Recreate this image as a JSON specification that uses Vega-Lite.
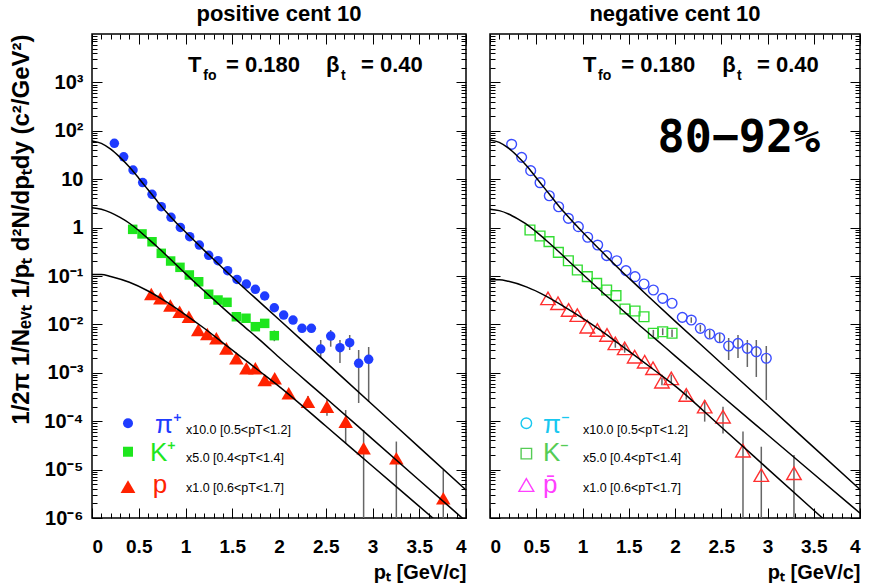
{
  "$schema": "https://vega.github.io/schema/vega-lite/v6.json",
  "background": "white",
  "padding": {"left": 9, "top": 1, "right": 5, "bottom": 5},
  "bounds": "flush",
  "spacing": 24,
  "config": {
    "font": "Liberation Sans",
    "view": {"stroke": "black", "strokeWidth": 1.5},
    "axis": {"domain": false, "grid": false, "tickColor": "black", "tickWidth": 1, "labelColor": "black", "titleColor": "black", "labelFont": "Liberation Sans", "labelFontWeight": "bold", "labelFontSize": 19, "titleFont": "Liberation Sans", "titleFontWeight": "bold"},
    "title": {"font": "Liberation Sans", "fontWeight": "bold", "fontSize": 22, "color": "black", "offset": 8}
  },
  "datasets": {
    "pts": [
      {"pn":"L","sp":"pi+","pT":0.239,"v":55},
      {"pn":"L","sp":"pi+","pT":0.339,"v":29},
      {"pn":"L","sp":"pi+","pT":0.439,"v":15.5},
      {"pn":"L","sp":"pi+","pT":0.542,"v":8.5},
      {"pn":"L","sp":"pi+","pT":0.642,"v":4.87},
      {"pn":"L","sp":"pi+","pT":0.741,"v":2.71},
      {"pn":"L","sp":"pi+","pT":0.845,"v":1.63},
      {"pn":"L","sp":"pi+","pT":0.945,"v":1.01},
      {"pn":"L","sp":"pi+","pT":1.045,"v":0.65},
      {"pn":"L","sp":"pi+","pT":1.148,"v":0.436},
      {"pn":"L","sp":"pi+","pT":1.248,"v":0.267},
      {"pn":"L","sp":"pi+","pT":1.348,"v":0.207},
      {"pn":"L","sp":"pi+","pT":1.451,"v":0.129},
      {"pn":"L","sp":"pi+","pT":1.551,"v":0.085},
      {"pn":"L","sp":"pi+","pT":1.651,"v":0.068},
      {"pn":"L","sp":"pi+","pT":1.747,"v":0.053},
      {"pn":"L","sp":"pi+","pT":1.847,"v":0.0386},
      {"pn":"L","sp":"pi+","pT":1.95,"v":0.0221},
      {"pn":"L","sp":"pi+","pT":2.05,"v":0.0156,"lo":0.0138,"hi":0.0175},
      {"pn":"L","sp":"pi+","pT":2.15,"v":0.0123,"lo":0.0108,"hi":0.0139},
      {"pn":"L","sp":"pi+","pT":2.246,"v":0.0083,"lo":0.0071,"hi":0.0096},
      {"pn":"L","sp":"pi+","pT":2.346,"v":0.0083,"lo":0.0069,"hi":0.0098},
      {"pn":"L","sp":"pi+","pT":2.446,"v":0.0031,"lo":0.0020,"hi":0.00476},
      {"pn":"L","sp":"pi+","pT":2.553,"v":0.00575,"lo":0.00346,"hi":0.00766},
      {"pn":"L","sp":"pi+","pT":2.652,"v":0.0033,"lo":0.00159,"hi":0.00476},
      {"pn":"L","sp":"pi+","pT":2.756,"v":0.0042,"lo":0.00296,"hi":0.00604},
      {"pn":"L","sp":"pi+","pT":2.852,"v":0.00157,"lo":0.000238,"hi":0.00296},
      {"pn":"L","sp":"pi+","pT":2.959,"v":0.0019,"lo":0.00025,"hi":0.00341},
      {"pn":"L","sp":"K+","pT":0.435,"v":0.92},
      {"pn":"L","sp":"K+","pT":0.535,"v":0.74},
      {"pn":"L","sp":"K+","pT":0.642,"v":0.51},
      {"pn":"L","sp":"K+","pT":0.741,"v":0.294},
      {"pn":"L","sp":"K+","pT":0.841,"v":0.204},
      {"pn":"L","sp":"K+","pT":0.941,"v":0.151},
      {"pn":"L","sp":"K+","pT":1.041,"v":0.105},
      {"pn":"L","sp":"K+","pT":1.141,"v":0.076},
      {"pn":"L","sp":"K+","pT":1.248,"v":0.042},
      {"pn":"L","sp":"K+","pT":1.348,"v":0.0319},
      {"pn":"L","sp":"K+","pT":1.444,"v":0.0286},
      {"pn":"L","sp":"K+","pT":1.544,"v":0.0144},
      {"pn":"L","sp":"K+","pT":1.647,"v":0.0134},
      {"pn":"L","sp":"K+","pT":1.747,"v":0.00897},
      {"pn":"L","sp":"K+","pT":1.847,"v":0.0105,"lo":0.0092,"hi":0.012},
      {"pn":"L","sp":"K+","pT":1.95,"v":0.00585,"lo":0.0045,"hi":0.0075},
      {"pn":"L","sp":"p","pT":0.634,"v":0.0425},
      {"pn":"L","sp":"p","pT":0.731,"v":0.0346},
      {"pn":"L","sp":"p","pT":0.838,"v":0.0245},
      {"pn":"L","sp":"p","pT":0.937,"v":0.0183},
      {"pn":"L","sp":"p","pT":1.036,"v":0.0144},
      {"pn":"L","sp":"p","pT":1.136,"v":0.00766},
      {"pn":"L","sp":"p","pT":1.233,"v":0.00634},
      {"pn":"L","sp":"p","pT":1.33,"v":0.00516},
      {"pn":"L","sp":"p","pT":1.437,"v":0.0032},
      {"pn":"L","sp":"p","pT":1.544,"v":0.0020},
      {"pn":"L","sp":"p","pT":1.651,"v":0.00124},
      {"pn":"L","sp":"p","pT":1.747,"v":0.00124},
      {"pn":"L","sp":"p","pT":1.847,"v":0.00071},
      {"pn":"L","sp":"p","pT":1.954,"v":0.00077,"lo":0.00066,"hi":0.0009},
      {"pn":"L","sp":"p","pT":2.104,"v":0.000377,"lo":0.00031,"hi":0.00045},
      {"pn":"L","sp":"p","pT":2.31,"v":0.000253,"lo":0.00019,"hi":0.00033},
      {"pn":"L","sp":"p","pT":2.513,"v":0.0002,"lo":0.00013,"hi":0.00028},
      {"pn":"L","sp":"p","pT":2.713,"v":0.0000977,"lo":0.000035,"hi":0.00017},
      {"pn":"L","sp":"p","pT":2.905,"v":0.0000275,"lo":0.0000001,"hi":0.000066},
      {"pn":"L","sp":"p","pT":3.255,"v":0.0000171,"lo":0.0000001,"hi":0.000038},
      {"pn":"L","sp":"p","pT":3.757,"v":0.00000255,"lo":0.0000001,"hi":0.0000098},
      {"pn":"R","sp":"pi-","pT":0.234,"v":52.6},
      {"pn":"R","sp":"pi-","pT":0.342,"v":28.3},
      {"pn":"R","sp":"pi-","pT":0.44,"v":15.0},
      {"pn":"R","sp":"pi-","pT":0.541,"v":8.47},
      {"pn":"R","sp":"pi-","pT":0.641,"v":4.56},
      {"pn":"R","sp":"pi-","pT":0.742,"v":2.70},
      {"pn":"R","sp":"pi-","pT":0.847,"v":1.556},
      {"pn":"R","sp":"pi-","pT":0.955,"v":1.045},
      {"pn":"R","sp":"pi-","pT":1.056,"v":0.631},
      {"pn":"R","sp":"pi-","pT":1.164,"v":0.436},
      {"pn":"R","sp":"pi-","pT":1.261,"v":0.263},
      {"pn":"R","sp":"pi-","pT":1.37,"v":0.207},
      {"pn":"R","sp":"pi-","pT":1.47,"v":0.129},
      {"pn":"R","sp":"pi-","pT":1.568,"v":0.0968},
      {"pn":"R","sp":"pi-","pT":1.665,"v":0.0684},
      {"pn":"R","sp":"pi-","pT":1.766,"v":0.0514},
      {"pn":"R","sp":"pi-","pT":1.867,"v":0.0346},
      {"pn":"R","sp":"pi-","pT":1.968,"v":0.0273},
      {"pn":"R","sp":"pi-","pT":2.079,"v":0.0140},
      {"pn":"R","sp":"pi-","pT":2.176,"v":0.0123,"lo":0.0108,"hi":0.014},
      {"pn":"R","sp":"pi-","pT":2.274,"v":0.0083,"lo":0.0071,"hi":0.0097},
      {"pn":"R","sp":"pi-","pT":2.375,"v":0.00634,"lo":0.0052,"hi":0.0077},
      {"pn":"R","sp":"pi-","pT":2.483,"v":0.0053,"lo":0.0042,"hi":0.0066},
      {"pn":"R","sp":"pi-","pT":2.58,"v":0.00358,"lo":0.00184,"hi":0.00524},
      {"pn":"R","sp":"pi-","pT":2.681,"v":0.00406,"lo":0.00202,"hi":0.00604},
      {"pn":"R","sp":"pi-","pT":2.782,"v":0.0032,"lo":0.00132,"hi":0.00476},
      {"pn":"R","sp":"pi-","pT":2.879,"v":0.00273,"lo":0.00082,"hi":0.00476},
      {"pn":"R","sp":"pi-","pT":2.987,"v":0.0020,"lo":0.000274,"hi":0.00358},
      {"pn":"R","sp":"K-","pT":0.432,"v":0.891},
      {"pn":"R","sp":"K-","pT":0.541,"v":0.67},
      {"pn":"R","sp":"K-","pT":0.638,"v":0.512},
      {"pn":"R","sp":"K-","pT":0.739,"v":0.308},
      {"pn":"R","sp":"K-","pT":0.847,"v":0.207},
      {"pn":"R","sp":"K-","pT":0.944,"v":0.133},
      {"pn":"R","sp":"K-","pT":1.052,"v":0.0968},
      {"pn":"R","sp":"K-","pT":1.153,"v":0.0706},
      {"pn":"R","sp":"K-","pT":1.261,"v":0.0514},
      {"pn":"R","sp":"K-","pT":1.362,"v":0.0392},
      {"pn":"R","sp":"K-","pT":1.459,"v":0.0208},
      {"pn":"R","sp":"K-","pT":1.568,"v":0.0189},
      {"pn":"R","sp":"K-","pT":1.665,"v":0.0144},
      {"pn":"R","sp":"K-","pT":1.766,"v":0.00655,"lo":0.0056,"hi":0.0077},
      {"pn":"R","sp":"K-","pT":1.867,"v":0.00706,"lo":0.006,"hi":0.0083},
      {"pn":"R","sp":"K-","pT":1.968,"v":0.00655,"lo":0.0055,"hi":0.0078},
      {"pn":"R","sp":"pbar","pT":0.627,"v":0.0346},
      {"pn":"R","sp":"pbar","pT":0.735,"v":0.0273},
      {"pn":"R","sp":"pbar","pT":0.85,"v":0.0199},
      {"pn":"R","sp":"pbar","pT":0.944,"v":0.0156},
      {"pn":"R","sp":"pbar","pT":1.052,"v":0.00897},
      {"pn":"R","sp":"pbar","pT":1.16,"v":0.00766},
      {"pn":"R","sp":"pbar","pT":1.265,"v":0.00604},
      {"pn":"R","sp":"pbar","pT":1.355,"v":0.00406,"lo":0.0033,"hi":0.0049},
      {"pn":"R","sp":"pbar","pT":1.456,"v":0.0032,"lo":0.0026,"hi":0.0039},
      {"pn":"R","sp":"pbar","pT":1.564,"v":0.00215},
      {"pn":"R","sp":"pbar","pT":1.672,"v":0.00169},
      {"pn":"R","sp":"pbar","pT":1.762,"v":0.00124},
      {"pn":"R","sp":"pbar","pT":1.859,"v":0.000655,"lo":0.00055,"hi":0.00078},
      {"pn":"R","sp":"pbar","pT":1.96,"v":0.000769,"lo":0.00064,"hi":0.00092},
      {"pn":"R","sp":"pbar","pT":2.122,"v":0.000348,"lo":0.00028,"hi":0.00043},
      {"pn":"R","sp":"pbar","pT":2.321,"v":0.0002,"lo":0.000098,"hi":0.000274},
      {"pn":"R","sp":"pbar","pT":2.519,"v":0.000124,"lo":0.000056,"hi":0.0002},
      {"pn":"R","sp":"pbar","pT":2.735,"v":0.0000246,"lo":0.0000001,"hi":0.000061},
      {"pn":"R","sp":"pbar","pT":2.933,"v":0.0000077,"lo":0.0000001,"hi":0.0000297},
      {"pn":"R","sp":"pbar","pT":3.286,"v":0.0000084,"lo":0.0000001,"hi":0.00002}
    ],
    "curves": [
      {"pn":"L","c":"pi","pT":0,"v":61.7},{"pn":"L","c":"pi","pT":0.1,"v":55.0},{"pn":"L","c":"pi","pT":0.2,"v":41.7},{"pn":"L","c":"pi","pT":0.3,"v":28.2},{"pn":"L","c":"pi","pT":0.4,"v":17.8},{"pn":"L","c":"pi","pT":0.5,"v":10.5},{"pn":"L","c":"pi","pT":0.6,"v":6.03},{"pn":"L","c":"pi","pT":0.7,"v":3.47},{"pn":"L","c":"pi","pT":0.8,"v":2.04},{"pn":"L","c":"pi","pT":0.9,"v":1.26},{"pn":"L","c":"pi","pT":1.0,"v":0.813},{"pn":"L","c":"pi","pT":1.2,"v":0.339},{"pn":"L","c":"pi","pT":1.4,"v":0.145},{"pn":"L","c":"pi","pT":1.6,"v":0.0631},{"pn":"L","c":"pi","pT":1.8,"v":0.0282},{"pn":"L","c":"pi","pT":2.0,"v":0.0126},{"pn":"L","c":"pi","pT":2.5,"v":0.00166},{"pn":"L","c":"pi","pT":3.0,"v":0.000219},{"pn":"L","c":"pi","pT":3.5,"v":0.0000288},{"pn":"L","c":"pi","pT":4.0,"v":0.0000038},
      {"pn":"L","c":"K","pT":0,"v":2.57},{"pn":"L","c":"K","pT":0.1,"v":2.40},{"pn":"L","c":"K","pT":0.2,"v":2.04},{"pn":"L","c":"K","pT":0.3,"v":1.62},{"pn":"L","c":"K","pT":0.4,"v":1.23},{"pn":"L","c":"K","pT":0.5,"v":0.871},{"pn":"L","c":"K","pT":0.6,"v":0.589},{"pn":"L","c":"K","pT":0.7,"v":0.398},{"pn":"L","c":"K","pT":0.8,"v":0.263},{"pn":"L","c":"K","pT":1.0,"v":0.112},{"pn":"L","c":"K","pT":1.2,"v":0.049},{"pn":"L","c":"K","pT":1.4,"v":0.0219},{"pn":"L","c":"K","pT":1.6,"v":0.01},{"pn":"L","c":"K","pT":1.8,"v":0.00468},{"pn":"L","c":"K","pT":2.0,"v":0.00209},{"pn":"L","c":"K","pT":2.5,"v":0.000302},{"pn":"L","c":"K","pT":3.0,"v":0.0000427},{"pn":"L","c":"K","pT":3.5,"v":0.00000603},{"pn":"L","c":"K","pT":4.0,"v":0.000000851},
      {"pn":"L","c":"p","pT":0,"v":0.107},{"pn":"L","c":"p","pT":0.1,"v":0.108},{"pn":"L","c":"p","pT":0.2,"v":0.0977},{"pn":"L","c":"p","pT":0.4,"v":0.0741},{"pn":"L","c":"p","pT":0.6,"v":0.049},{"pn":"L","c":"p","pT":0.8,"v":0.0288},{"pn":"L","c":"p","pT":1.0,"v":0.0158},{"pn":"L","c":"p","pT":1.2,"v":0.00832},{"pn":"L","c":"p","pT":1.4,"v":0.00417},{"pn":"L","c":"p","pT":1.6,"v":0.00209},{"pn":"L","c":"p","pT":1.8,"v":0.00105},{"pn":"L","c":"p","pT":2.0,"v":0.000525},{"pn":"L","c":"p","pT":2.5,"v":0.0000794},{"pn":"L","c":"p","pT":3.0,"v":0.0000117},{"pn":"L","c":"p","pT":3.5,"v":0.00000174},{"pn":"L","c":"p","pT":4.0,"v":0.000000257},
      {"pn":"R","c":"pi","pT":0,"v":64.6},{"pn":"R","c":"pi","pT":0.1,"v":57.5},{"pn":"R","c":"pi","pT":0.2,"v":43.7},{"pn":"R","c":"pi","pT":0.3,"v":29.5},{"pn":"R","c":"pi","pT":0.4,"v":18.6},{"pn":"R","c":"pi","pT":0.5,"v":10.7},{"pn":"R","c":"pi","pT":0.6,"v":6.17},{"pn":"R","c":"pi","pT":0.7,"v":3.55},{"pn":"R","c":"pi","pT":0.8,"v":2.09},{"pn":"R","c":"pi","pT":0.9,"v":1.29},{"pn":"R","c":"pi","pT":1.0,"v":0.813},{"pn":"R","c":"pi","pT":1.2,"v":0.331},{"pn":"R","c":"pi","pT":1.4,"v":0.138},{"pn":"R","c":"pi","pT":1.6,"v":0.0603},{"pn":"R","c":"pi","pT":1.8,"v":0.0263},{"pn":"R","c":"pi","pT":2.0,"v":0.0117},{"pn":"R","c":"pi","pT":2.5,"v":0.00158},{"pn":"R","c":"pi","pT":3.0,"v":0.000214},{"pn":"R","c":"pi","pT":3.5,"v":0.0000288},{"pn":"R","c":"pi","pT":4.0,"v":0.00000389},
      {"pn":"R","c":"K","pT":0,"v":2.40},{"pn":"R","c":"K","pT":0.1,"v":2.24},{"pn":"R","c":"K","pT":0.2,"v":1.91},{"pn":"R","c":"K","pT":0.3,"v":1.51},{"pn":"R","c":"K","pT":0.4,"v":1.15},{"pn":"R","c":"K","pT":0.5,"v":0.813},{"pn":"R","c":"K","pT":0.6,"v":0.562},{"pn":"R","c":"K","pT":0.7,"v":0.380},{"pn":"R","c":"K","pT":0.8,"v":0.251},{"pn":"R","c":"K","pT":1.0,"v":0.110},{"pn":"R","c":"K","pT":1.2,"v":0.049},{"pn":"R","c":"K","pT":1.4,"v":0.0224},{"pn":"R","c":"K","pT":1.6,"v":0.0102},{"pn":"R","c":"K","pT":1.8,"v":0.00479},{"pn":"R","c":"K","pT":2.0,"v":0.00224},{"pn":"R","c":"K","pT":2.5,"v":0.000339},{"pn":"R","c":"K","pT":3.0,"v":0.0000525},{"pn":"R","c":"K","pT":3.5,"v":0.00000813},{"pn":"R","c":"K","pT":4.0,"v":0.00000126},
      {"pn":"R","c":"p","pT":0,"v":0.0832},{"pn":"R","c":"p","pT":0.1,"v":0.0832},{"pn":"R","c":"p","pT":0.2,"v":0.0776},{"pn":"R","c":"p","pT":0.4,"v":0.0589},{"pn":"R","c":"p","pT":0.6,"v":0.0389},{"pn":"R","c":"p","pT":0.8,"v":0.0234},{"pn":"R","c":"p","pT":1.0,"v":0.0135},{"pn":"R","c":"p","pT":1.2,"v":0.00741},{"pn":"R","c":"p","pT":1.4,"v":0.00389},{"pn":"R","c":"p","pT":1.6,"v":0.00204},{"pn":"R","c":"p","pT":1.8,"v":0.00105},{"pn":"R","c":"p","pT":2.0,"v":0.000537},{"pn":"R","c":"p","pT":2.5,"v":0.0000759},{"pn":"R","c":"p","pT":3.0,"v":0.0000105},{"pn":"R","c":"p","pT":3.5,"v":0.00000145},{"pn":"R","c":"p","pT":4.0,"v":0.0000002}
    ],
    "ann": [
      {"pn":"L","k":"main","pT":1.027,"v":1663,"txt":"T"},
      {"pn":"L","k":"sub","pT":1.19,"v":1122,"txt":"fo"},
      {"pn":"L","k":"main","pT":1.433,"v":1663,"txt":"= 0.180"},
      {"pn":"L","k":"main","pT":2.503,"v":1663,"txt":"β"},
      {"pn":"L","k":"sub","pT":2.663,"v":1122,"txt":"t"},
      {"pn":"L","k":"main","pT":2.877,"v":1663,"txt":"= 0.40"},
      {"pn":"R","k":"main","pT":1.005,"v":1663,"txt":"T"},
      {"pn":"R","k":"sub","pT":1.168,"v":1122,"txt":"fo"},
      {"pn":"R","k":"main","pT":1.419,"v":1663,"txt":"= 0.180"},
      {"pn":"R","k":"main","pT":2.51,"v":1663,"txt":"β"},
      {"pn":"R","k":"sub","pT":2.67,"v":1122,"txt":"t"},
      {"pn":"R","k":"main","pT":2.886,"v":1663,"txt":"= 0.40"},
      {"pn":"R","k":"big","pT":2.69,"v":71,"txt":"80−92%"},
      {"pn":"L","k":"sym","sp":"pi+","pT":0.385,"v":0.0000906},
      {"pn":"L","k":"sym","sp":"K+","pT":0.385,"v":0.0000234},
      {"pn":"L","k":"sym","sp":"p","pT":0.385,"v":0.00000444},
      {"pn":"L","k":"lab","sp":"pi+","pT":0.674,"v":0.0000832,"txt":"π⁺"},
      {"pn":"L","k":"lab","sp":"K+","pT":0.62,"v":0.0000220,"txt":"K⁺"},
      {"pn":"L","k":"lab","sp":"p","pT":0.65,"v":0.0000048,"txt":"p"},
      {"pn":"L","k":"desc","pT":1.005,"v":0.0000658,"txt":"x10.0 [0.5<pT<1.2]"},
      {"pn":"L","k":"desc","pT":1.005,"v":0.0000174,"txt":"x5.0 [0.4<pT<1.4]"},
      {"pn":"L","k":"desc","pT":1.005,"v":0.00000417,"txt":"x1.0 [0.6<pT<1.7]"},
      {"pn":"R","k":"sym","sp":"pi-L","pT":0.393,"v":0.0000906},
      {"pn":"R","k":"sym","sp":"K-L","pT":0.393,"v":0.0000214},
      {"pn":"R","k":"sym","sp":"pbar-L","pT":0.393,"v":0.00000481},
      {"pn":"R","k":"lab","sp":"pi-L","pT":0.573,"v":0.0000832,"txt":"π⁻"},
      {"pn":"R","k":"lab","sp":"K-L","pT":0.573,"v":0.0000220,"txt":"K⁻"},
      {"pn":"R","k":"lab","sp":"pbar-L","pT":0.573,"v":0.0000048,"txt":"p̄"},
      {"pn":"R","k":"desc","pT":1.005,"v":0.0000658,"txt":"x10.0 [0.5<pT<1.2]"},
      {"pn":"R","k":"desc","pT":1.005,"v":0.0000174,"txt":"x5.0 [0.4<pT<1.4]"},
      {"pn":"R","k":"desc","pT":1.005,"v":0.00000417,"txt":"x1.0 [0.6<pT<1.7]"}
    ]
  },
  "hconcat": [
    {
      "width": 374,
      "height": 484,
      "title": {"text": "positive cent 10"},
      "resolve": {"axis": {"x": "independent", "y": "independent"}},
      "layer": [
        {
          "data": {"name": "pts"},
          "transform": [{"filter": "datum.pn == 'L' && isValid(datum.lo)"}],
          "mark": {"type": "rule", "color": "#666666", "strokeWidth": 1.5, "clip": true},
          "encoding": {
            "x": {"field": "pT", "type": "quantitative", "scale": {"domain": [0, 4], "nice": false, "zero": false},
                  "axis": {"orient": "bottom", "values": [0,0.5,1,1.5,2,2.5,3,3.5,4], "format": "~g", "tickSize": -10, "labelPadding": 29, "title": "pₜ [GeV/c]", "titleAnchor": "end", "titleFontSize": 20, "titlePadding": 6}},
            "y": {"field": "lo", "type": "quantitative", "scale": {"type": "log", "domain": [0.000001, 10000], "nice": false},
                  "axis": {"orient": "left", "values": [0.000001,0.00001,0.0001,0.001,0.01,0.1,1,10,100,1000], "tickSize": -10, "labelPadding": 19, "labelFontSize": 20, "labelExpr": "datum.value >= 999 ? '10³' : datum.value >= 99 ? '10²' : datum.value >= 9 ? '10' : datum.value >= 0.9 ? '1' : datum.value >= 0.09 ? '10⁻¹' : datum.value >= 0.009 ? '10⁻²' : datum.value >= 0.0009 ? '10⁻³' : datum.value >= 0.00009 ? '10⁻⁴' : datum.value >= 0.000009 ? '10⁻⁵' : '10⁻⁶'", "title": "1/2π 1/Nₑᵥₜ 1/pₜ d²N/dpₜdy (c²/GeV²)", "titleAnchor": "end", "titleFontSize": 24, "titlePadding": 10}},
            "y2": {"field": "hi"}
          }
        },
        {
          "data": {"name": "pts"},
          "transform": [{"filter": "datum.pn == 'L' && datum.sp != 'p'"}],
          "mark": {"type": "point", "filled": true, "opacity": 1, "size": 90},
          "encoding": {
            "x": {"field": "pT", "type": "quantitative", "scale": {"domain": [0, 4], "nice": false, "zero": false},
                  "axis": {"orient": "top", "values": [0,0.5,1,1.5,2,2.5,3,3.5,4], "tickSize": -10, "labels": false, "title": null}},
            "y": {"field": "v", "type": "quantitative", "scale": {"type": "log", "domain": [0.000001, 10000], "nice": false},
                  "axis": {"orient": "right", "values": [0.000001,0.00001,0.0001,0.001,0.01,0.1,1,10,100,1000], "tickSize": -10, "labels": false, "title": null}},
            "color": {"field": "sp", "type": "nominal", "legend": null, "scale": {"domain": ["pi+","K+","p","pi-","K-","pbar","pi-L","K-L","pbar-L"], "range": ["#1f3cff","#1ee61e","#ff2200","#3a4cff","#33dd33","#ff3030","#18c8f0","#55cc55","#ff40ff"]}},
            "shape": {"field": "sp", "type": "nominal", "legend": null, "scale": {"domain": ["pi+","K+","p","pi-","K-","pbar","pi-L","K-L","pbar-L"], "range": ["circle","square","triangle-up","circle","square","triangle-up","circle","square","triangle-up"]}}
          }
        },
        {
          "data": {"name": "pts"},
          "transform": [{"filter": "datum.pn == 'L' && datum.sp == 'p'"}],
          "mark": {"type": "point", "filled": true, "opacity": 1, "size": 210},
          "encoding": {
            "x": {"field": "pT", "type": "quantitative", "axis": null},
            "y": {"field": "v", "type": "quantitative", "axis": null},
            "color": {"field": "sp", "type": "nominal", "legend": null},
            "shape": {"field": "sp", "type": "nominal", "legend": null}
          }
        },
        {
          "data": {"name": "curves"},
          "transform": [{"filter": "datum.pn == 'L'"}],
          "mark": {"type": "line", "color": "black", "strokeWidth": 1.5, "clip": true, "interpolate": "monotone"},
          "encoding": {
            "x": {"field": "pT", "type": "quantitative", "scale": {"domain": [0, 4], "nice": false, "zero": false},
                  "axis": {"orient": "bottom", "values": [0.1,0.2,0.3,0.4,0.6,0.7,0.8,0.9,1.1,1.2,1.3,1.4,1.6,1.7,1.8,1.9,2.1,2.2,2.3,2.4,2.6,2.7,2.8,2.9,3.1,3.2,3.3,3.4,3.6,3.7,3.8,3.9], "tickSize": -5, "labels": false, "title": null}},
            "y": {"field": "v", "type": "quantitative", "scale": {"type": "log", "domain": [0.000001, 10000], "nice": false},
                  "axis": {"orient": "left", "values": [0.000002,0.000003,0.000004,0.000005,0.000006,0.000007,0.000008,0.000009,0.00002,0.00003,0.00004,0.00005,0.00006,0.00007,0.00008,0.00009,0.0002,0.0003,0.0004,0.0005,0.0006,0.0007,0.0008,0.0009,0.002,0.003,0.004,0.005,0.006,0.007,0.008,0.009,0.02,0.03,0.04,0.05,0.06,0.07,0.08,0.09,0.2,0.3,0.4,0.5,0.6,0.7,0.8,0.9,2,3,4,5,6,7,8,9,20,30,40,50,60,70,80,90,200,300,400,500,600,700,800,900,2000,3000,4000,5000,6000,7000,8000,9000], "tickSize": -5, "labels": false, "title": null}},
            "detail": {"field": "c"}
          }
        },
        {
          "data": {"name": "ann"},
          "transform": [{"filter": "datum.pn == 'L' && datum.k == 'main'"}],
          "mark": {"type": "text", "align": "left", "baseline": "alphabetic", "fontSize": 22, "fontWeight": "bold", "font": "Liberation Sans", "color": "black"},
          "encoding": {
            "x": {"field": "pT", "type": "quantitative", "scale": {"domain": [0, 4], "nice": false, "zero": false},
                  "axis": {"orient": "top", "values": [0.1,0.2,0.3,0.4,0.6,0.7,0.8,0.9,1.1,1.2,1.3,1.4,1.6,1.7,1.8,1.9,2.1,2.2,2.3,2.4,2.6,2.7,2.8,2.9,3.1,3.2,3.3,3.4,3.6,3.7,3.8,3.9], "tickSize": -5, "labels": false, "title": null}},
            "y": {"field": "v", "type": "quantitative", "scale": {"type": "log", "domain": [0.000001, 10000], "nice": false},
                  "axis": {"orient": "right", "values": [0.000002,0.000003,0.000004,0.000005,0.000006,0.000007,0.000008,0.000009,0.00002,0.00003,0.00004,0.00005,0.00006,0.00007,0.00008,0.00009,0.0002,0.0003,0.0004,0.0005,0.0006,0.0007,0.0008,0.0009,0.002,0.003,0.004,0.005,0.006,0.007,0.008,0.009,0.02,0.03,0.04,0.05,0.06,0.07,0.08,0.09,0.2,0.3,0.4,0.5,0.6,0.7,0.8,0.9,2,3,4,5,6,7,8,9,20,30,40,50,60,70,80,90,200,300,400,500,600,700,800,900,2000,3000,4000,5000,6000,7000,8000,9000], "tickSize": -5, "labels": false, "title": null}},
            "text": {"field": "txt"}
          }
        },
        {
          "data": {"name": "ann"},
          "transform": [{"filter": "datum.pn == 'L' && datum.k == 'sub'"}],
          "mark": {"type": "text", "align": "left", "baseline": "alphabetic", "fontSize": 14, "fontWeight": "bold", "font": "Liberation Sans", "color": "black"},
          "encoding": {
            "x": {"field": "pT", "type": "quantitative", "axis": null},
            "y": {"field": "v", "type": "quantitative", "axis": null},
            "text": {"field": "txt"}
          }
        },
        {
          "data": {"name": "ann"},
          "transform": [{"filter": "datum.pn == 'L' && datum.k == 'sym' && datum.sp != 'p'"}],
          "mark": {"type": "point", "filled": true, "opacity": 1, "size": 100},
          "encoding": {
            "x": {"field": "pT", "type": "quantitative", "axis": null},
            "y": {"field": "v", "type": "quantitative", "axis": null},
            "color": {"field": "sp", "type": "nominal", "legend": null},
            "shape": {"field": "sp", "type": "nominal", "legend": null}
          }
        },
        {
          "data": {"name": "ann"},
          "transform": [{"filter": "datum.pn == 'L' && datum.k == 'sym' && datum.sp == 'p'"}],
          "mark": {"type": "point", "filled": true, "opacity": 1, "size": 220},
          "encoding": {
            "x": {"field": "pT", "type": "quantitative", "axis": null},
            "y": {"field": "v", "type": "quantitative", "axis": null},
            "color": {"field": "sp", "type": "nominal", "legend": null},
            "shape": {"field": "sp", "type": "nominal", "legend": null}
          }
        },
        {
          "data": {"name": "ann"},
          "transform": [{"filter": "datum.pn == 'L' && datum.k == 'lab'"}],
          "mark": {"type": "text", "align": "left", "baseline": "middle", "fontSize": 26, "font": "Liberation Sans"},
          "encoding": {
            "x": {"field": "pT", "type": "quantitative", "axis": null},
            "y": {"field": "v", "type": "quantitative", "axis": null},
            "color": {"field": "sp", "type": "nominal", "legend": null},
            "text": {"field": "txt"}
          }
        },
        {
          "data": {"name": "ann"},
          "transform": [{"filter": "datum.pn == 'L' && datum.k == 'desc'"}],
          "mark": {"type": "text", "align": "left", "baseline": "middle", "fontSize": 12.5, "font": "Liberation Sans", "color": "black"},
          "encoding": {
            "x": {"field": "pT", "type": "quantitative", "axis": null},
            "y": {"field": "v", "type": "quantitative", "axis": null},
            "text": {"field": "txt"}
          }
        }
      ]
    },
    {
      "width": 370,
      "height": 484,
      "title": {"text": "negative cent 10"},
      "resolve": {"axis": {"x": "independent", "y": "independent"}},
      "layer": [
        {
          "data": {"name": "pts"},
          "transform": [{"filter": "datum.pn == 'R' && isValid(datum.lo)"}],
          "mark": {"type": "rule", "color": "#666666", "strokeWidth": 1.5, "clip": true},
          "encoding": {
            "x": {"field": "pT", "type": "quantitative", "scale": {"domain": [0, 4], "nice": false, "zero": false},
                  "axis": {"orient": "bottom", "values": [0,0.5,1,1.5,2,2.5,3,3.5,4], "format": "~g", "tickSize": -10, "labelPadding": 29, "title": "pₜ [GeV/c]", "titleAnchor": "end", "titleFontSize": 20, "titlePadding": 6}},
            "y": {"field": "lo", "type": "quantitative", "scale": {"type": "log", "domain": [0.000001, 10000], "nice": false},
                  "axis": {"orient": "left", "values": [0.000001,0.00001,0.0001,0.001,0.01,0.1,1,10,100,1000], "tickSize": -10, "labels": false, "title": null}},
            "y2": {"field": "hi"}
          }
        },
        {
          "data": {"name": "pts"},
          "transform": [{"filter": "datum.pn == 'R' && datum.sp != 'pbar'"}],
          "mark": {"type": "point", "filled": false, "opacity": 1, "size": 95, "strokeWidth": 1.4},
          "encoding": {
            "x": {"field": "pT", "type": "quantitative", "scale": {"domain": [0, 4], "nice": false, "zero": false},
                  "axis": {"orient": "top", "values": [0,0.5,1,1.5,2,2.5,3,3.5,4], "tickSize": -10, "labels": false, "title": null}},
            "y": {"field": "v", "type": "quantitative", "scale": {"type": "log", "domain": [0.000001, 10000], "nice": false},
                  "axis": {"orient": "right", "values": [0.000001,0.00001,0.0001,0.001,0.01,0.1,1,10,100,1000], "tickSize": -10, "labels": false, "title": null}},
            "color": {"field": "sp", "type": "nominal", "legend": null, "scale": {"domain": ["pi+","K+","p","pi-","K-","pbar","pi-L","K-L","pbar-L"], "range": ["#1f3cff","#1ee61e","#ff2200","#3a4cff","#33dd33","#ff3030","#18c8f0","#55cc55","#ff40ff"]}},
            "shape": {"field": "sp", "type": "nominal", "legend": null, "scale": {"domain": ["pi+","K+","p","pi-","K-","pbar","pi-L","K-L","pbar-L"], "range": ["circle","square","triangle-up","circle","square","triangle-up","circle","square","triangle-up"]}}
          }
        },
        {
          "data": {"name": "pts"},
          "transform": [{"filter": "datum.pn == 'R' && datum.sp == 'pbar'"}],
          "mark": {"type": "point", "filled": false, "opacity": 1, "size": 210, "strokeWidth": 1.4},
          "encoding": {
            "x": {"field": "pT", "type": "quantitative", "axis": null},
            "y": {"field": "v", "type": "quantitative", "axis": null},
            "color": {"field": "sp", "type": "nominal", "legend": null},
            "shape": {"field": "sp", "type": "nominal", "legend": null}
          }
        },
        {
          "data": {"name": "curves"},
          "transform": [{"filter": "datum.pn == 'R'"}],
          "mark": {"type": "line", "color": "black", "strokeWidth": 1.5, "clip": true, "interpolate": "monotone"},
          "encoding": {
            "x": {"field": "pT", "type": "quantitative", "scale": {"domain": [0, 4], "nice": false, "zero": false},
                  "axis": {"orient": "bottom", "values": [0.1,0.2,0.3,0.4,0.6,0.7,0.8,0.9,1.1,1.2,1.3,1.4,1.6,1.7,1.8,1.9,2.1,2.2,2.3,2.4,2.6,2.7,2.8,2.9,3.1,3.2,3.3,3.4,3.6,3.7,3.8,3.9], "tickSize": -5, "labels": false, "title": null}},
            "y": {"field": "v", "type": "quantitative", "scale": {"type": "log", "domain": [0.000001, 10000], "nice": false},
                  "axis": {"orient": "left", "values": [0.000002,0.000003,0.000004,0.000005,0.000006,0.000007,0.000008,0.000009,0.00002,0.00003,0.00004,0.00005,0.00006,0.00007,0.00008,0.00009,0.0002,0.0003,0.0004,0.0005,0.0006,0.0007,0.0008,0.0009,0.002,0.003,0.004,0.005,0.006,0.007,0.008,0.009,0.02,0.03,0.04,0.05,0.06,0.07,0.08,0.09,0.2,0.3,0.4,0.5,0.6,0.7,0.8,0.9,2,3,4,5,6,7,8,9,20,30,40,50,60,70,80,90,200,300,400,500,600,700,800,900,2000,3000,4000,5000,6000,7000,8000,9000], "tickSize": -5, "labels": false, "title": null}},
            "detail": {"field": "c"}
          }
        },
        {
          "data": {"name": "ann"},
          "transform": [{"filter": "datum.pn == 'R' && datum.k == 'main'"}],
          "mark": {"type": "text", "align": "left", "baseline": "alphabetic", "fontSize": 22, "fontWeight": "bold", "font": "Liberation Sans", "color": "black"},
          "encoding": {
            "x": {"field": "pT", "type": "quantitative", "scale": {"domain": [0, 4], "nice": false, "zero": false},
                  "axis": {"orient": "top", "values": [0.1,0.2,0.3,0.4,0.6,0.7,0.8,0.9,1.1,1.2,1.3,1.4,1.6,1.7,1.8,1.9,2.1,2.2,2.3,2.4,2.6,2.7,2.8,2.9,3.1,3.2,3.3,3.4,3.6,3.7,3.8,3.9], "tickSize": -5, "labels": false, "title": null}},
            "y": {"field": "v", "type": "quantitative", "scale": {"type": "log", "domain": [0.000001, 10000], "nice": false},
                  "axis": {"orient": "right", "values": [0.000002,0.000003,0.000004,0.000005,0.000006,0.000007,0.000008,0.000009,0.00002,0.00003,0.00004,0.00005,0.00006,0.00007,0.00008,0.00009,0.0002,0.0003,0.0004,0.0005,0.0006,0.0007,0.0008,0.0009,0.002,0.003,0.004,0.005,0.006,0.007,0.008,0.009,0.02,0.03,0.04,0.05,0.06,0.07,0.08,0.09,0.2,0.3,0.4,0.5,0.6,0.7,0.8,0.9,2,3,4,5,6,7,8,9,20,30,40,50,60,70,80,90,200,300,400,500,600,700,800,900,2000,3000,4000,5000,6000,7000,8000,9000], "tickSize": -5, "labels": false, "title": null}},
            "text": {"field": "txt"}
          }
        },
        {
          "data": {"name": "ann"},
          "transform": [{"filter": "datum.pn == 'R' && datum.k == 'sub'"}],
          "mark": {"type": "text", "align": "left", "baseline": "alphabetic", "fontSize": 14, "fontWeight": "bold", "font": "Liberation Sans", "color": "black"},
          "encoding": {
            "x": {"field": "pT", "type": "quantitative", "axis": null},
            "y": {"field": "v", "type": "quantitative", "axis": null},
            "text": {"field": "txt"}
          }
        },
        {
          "data": {"name": "ann"},
          "transform": [{"filter": "datum.pn == 'R' && datum.k == 'big'"}],
          "mark": {"type": "text", "align": "center", "baseline": "middle", "fontSize": 45, "fontWeight": "bold", "font": "DejaVu Sans Mono", "color": "black"},
          "encoding": {
            "x": {"field": "pT", "type": "quantitative", "axis": null},
            "y": {"field": "v", "type": "quantitative", "axis": null},
            "text": {"field": "txt"}
          }
        },
        {
          "data": {"name": "ann"},
          "transform": [{"filter": "datum.pn == 'R' && datum.k == 'sym' && datum.sp != 'pbar-L'"}],
          "mark": {"type": "point", "filled": false, "opacity": 1, "size": 110, "strokeWidth": 1.4},
          "encoding": {
            "x": {"field": "pT", "type": "quantitative", "axis": null},
            "y": {"field": "v", "type": "quantitative", "axis": null},
            "color": {"field": "sp", "type": "nominal", "legend": null},
            "shape": {"field": "sp", "type": "nominal", "legend": null}
          }
        },
        {
          "data": {"name": "ann"},
          "transform": [{"filter": "datum.pn == 'R' && datum.k == 'sym' && datum.sp == 'pbar-L'"}],
          "mark": {"type": "point", "filled": false, "opacity": 1, "size": 220, "strokeWidth": 1.4},
          "encoding": {
            "x": {"field": "pT", "type": "quantitative", "axis": null},
            "y": {"field": "v", "type": "quantitative", "axis": null},
            "color": {"field": "sp", "type": "nominal", "legend": null},
            "shape": {"field": "sp", "type": "nominal", "legend": null}
          }
        },
        {
          "data": {"name": "ann"},
          "transform": [{"filter": "datum.pn == 'R' && datum.k == 'lab'"}],
          "mark": {"type": "text", "align": "left", "baseline": "middle", "fontSize": 26, "font": "Liberation Sans"},
          "encoding": {
            "x": {"field": "pT", "type": "quantitative", "axis": null},
            "y": {"field": "v", "type": "quantitative", "axis": null},
            "color": {"field": "sp", "type": "nominal", "legend": null},
            "text": {"field": "txt"}
          }
        },
        {
          "data": {"name": "ann"},
          "transform": [{"filter": "datum.pn == 'R' && datum.k == 'desc'"}],
          "mark": {"type": "text", "align": "left", "baseline": "middle", "fontSize": 12.5, "font": "Liberation Sans", "color": "black"},
          "encoding": {
            "x": {"field": "pT", "type": "quantitative", "axis": null},
            "y": {"field": "v", "type": "quantitative", "axis": null},
            "text": {"field": "txt"}
          }
        }
      ]
    }
  ]
}
